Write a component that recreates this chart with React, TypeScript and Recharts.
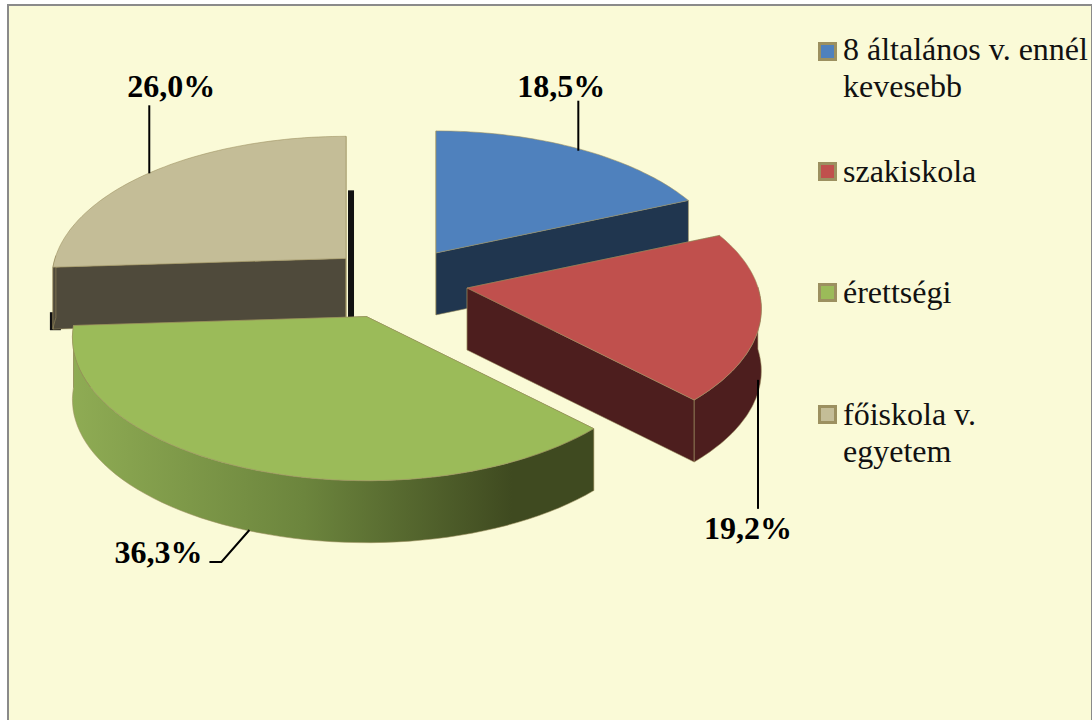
import { PieChart, Pie, Legend } from "recharts";

const categories = ["8 általános v. ennél kevesebb", "szakiskola", "érettségi", "főiskola v. egyetem"];
const shares = [18.5, 19.2, 36.3, 26.0];
const legendLines = [["8 általános v. ennél", "kevesebb"], ["szakiskola"], ["érettségi"], ["főiskola v.", "egyetem"]];
// tan goes first so that the green slice is painted over it
const drawOrder = [3, 0, 1, 2];

const TOP_COLORS = ["#4f81bd", "#c0504d", "#9bbb59", "#c4bd97"];
const WALL_COLORS = ["#20364f", "#4d1e1e", "url(#greenWall)", "#4f4a3b"];
const EDGE = "#9c9060";
const BG = "#fafad7";

const WIDTH = 1092;
const HEIGHT = 720;
const TILT = 0.481;
const PERSPECTIVE = 0.147;
const DEPTH = 62;
const EXPLODE_X = 72;
const EXPLODE_Y = 36;
// small per slice correction on top of the explode
const SLICE_NUDGE = [[0, 0], [0, -2], [-4, 0], [2, 0]];

// leader line and label text, relative to where the slice's mid angle hits its rim
const LABEL_LAYOUT = [
  { wall: 0, path: [[0, 2], [0, -48]], text: [-17, -52] },
  { wall: 1, path: [[-3, 2], [-3, 131]], text: [-13, 161] },
  { wall: 1, path: [[4, 0], [-24, 32], [-36, 32]], text: [-87, 33] },
  { wall: 0, path: [[-4, 2], [-4, -66]], text: [18, -74] },
];

const LEGEND_TOPS = [31, 153, 274, 396];
const SWATCH_OFFSET = [11, 9, 9, 9];

const sliceCentre = (cx: number, cy: number, midAngle: number, idx: number) => {
  const t = ((90 - midAngle) * Math.PI) / 180;
  return {
    x: cx + EXPLODE_X * Math.sin(t) + SLICE_NUDGE[idx][0],
    y: cy - EXPLODE_Y * Math.cos(t) + SLICE_NUDGE[idx][1],
  };
};

// pie plane to screen, the front of the pie comes out larger than the back
const project = (c: { x: number; y: number }, r: number, angle: number) => {
  const t = ((90 - angle) * Math.PI) / 180;
  const px = Math.sin(t);
  const py = -Math.cos(t);
  const s = 1 / (1 - PERSPECTIVE * py);
  return { x: c.x + r * px * s, y: c.y + r * TILT * py * s, front: py > -0.02 };
};

const toPath = (pts: { x: number; y: number }[]) =>
  "M" + pts.map((p) => `${p.x.toFixed(1)},${p.y.toFixed(1)}`).join("L") + "Z";

function Slice3D(props: any) {
  const { cx, cy, outerRadius, startAngle, endAngle, midAngle, payload } = props;
  const idx = payload.idx;
  const c = sliceCentre(cx, cy, midAngle, idx);
  const arc = [];
  for (let i = 0; i <= 60; i++) {
    arc.push(project(c, outerRadius, startAngle + ((endAngle - startAngle) * i) / 60));
  }
  const down = (p: { x: number; y: number }) => ({ x: p.x, y: p.y + DEPTH });
  const first = arc[0];
  const last = arc[arc.length - 1];
  const frontArc = arc.filter((p) => p.front);
  const wallColor = WALL_COLORS[idx];
  const flatWall = idx === 2 ? "#3f4a20" : wallColor;
  return (
    <g strokeOpacity={0.8}>
      {idx === 3 && (
        <g fill="#111">
          <rect x={c.x + 2} y={c.y - 68} width={6} height={128} />
          <path
            d={toPath([
              { x: first.x - 3, y: first.y + 45 },
              { x: first.x - 3, y: first.y + 63 },
              { x: first.x + 8, y: first.y + 63 },
              { x: first.x + 8, y: first.y + 45 },
            ])}
          />
        </g>
      )}
      <path d={toPath([c, first, down(first), down(c)])} fill={flatWall} stroke={EDGE} strokeWidth={0.7} />
      <path d={toPath([c, last, down(last), down(c)])} fill={flatWall} stroke={EDGE} strokeWidth={0.7} />
      {frontArc.length > 1 && (
        <path
          d={toPath([...frontArc, ...frontArc.map(down).reverse()])}
          fill={wallColor}
          stroke={EDGE}
          strokeWidth={0.7}
        />
      )}
      <path d={toPath([c, ...arc])} fill={TOP_COLORS[idx]} stroke={EDGE} strokeWidth={0.7} />
    </g>
  );
}

function SliceLabel(props: any) {
  const { cx, cy, outerRadius, midAngle, payload } = props;
  const idx = payload.idx;
  const layout = LABEL_LAYOUT[idx];
  const rim = project(sliceCentre(cx, cy, midAngle, idx), outerRadius, midAngle);
  const ax = rim.x;
  const ay = rim.y + layout.wall * DEPTH;
  return (
    <g>
      <polyline
        points={layout.path.map(([dx, dy]) => `${ax + dx},${ay + dy}`).join(" ")}
        fill="none"
        stroke="#000"
        strokeWidth={2}
      />
      <text
        x={ax + layout.text[0]}
        y={ay + layout.text[1]}
        textAnchor="middle"
        fontFamily="'Liberation Serif', serif"
        fontWeight="bold"
        fontSize={32}
        fill="#000"
      >
        {payload.value.toFixed(1).replace(".", ",") + "%"}
      </text>
    </g>
  );
}

function LegendList() {
  return (
    <div style={{ position: "relative", width: WIDTH, height: HEIGHT }}>
      {legendLines.map((lines, i) => (
        <div key={categories[i]} style={{ position: "absolute", left: 0, top: LEGEND_TOPS[i] }}>
          <span
            style={{
              position: "absolute",
              left: 818,
              top: SWATCH_OFFSET[i],
              width: 13,
              height: 13,
              background: TOP_COLORS[i],
              border: `3px solid ${EDGE}`,
            }}
          />
          <div
            style={{
              position: "absolute",
              left: 843,
              top: 0,
              width: 260,
              fontFamily: "'Liberation Serif', serif",
              fontSize: 32,
              lineHeight: "37px",
              color: "#111",
              whiteSpace: "nowrap",
            }}
          >
            {lines.map((l) => (
              <div key={l}>{l}</div>
            ))}
          </div>
        </div>
      ))}
    </div>
  );
}

const pieData = drawOrder.map((i) => ({ name: categories[i], value: shares[i], idx: i }));
const total = shares.reduce((a, b) => a + b, 0);
const startAngle = 90 + (360 * shares[drawOrder[0]]) / total;

export default function App() {
  return (
    <div style={{ position: "absolute", left: 0, top: 0, width: WIDTH, height: HEIGHT, overflow: "hidden", background: "#fff" }}>
      <div
        style={{
          position: "absolute",
          left: 7,
          top: 4,
          width: WIDTH - 10,
          height: HEIGHT,
          background: BG,
          border: "2px solid #8a8a8a",
        }}
      />
      <div style={{ position: "absolute", left: 0, top: 0 }}>
        <PieChart width={WIDTH} height={HEIGHT} margin={{ top: 0, right: 0, bottom: 0, left: 0 }}>
          <defs>
            <linearGradient id="greenWall" gradientUnits="userSpaceOnUse" x1="70" y1="0" x2="590" y2="0">
              <stop offset="0" stopColor="#8fac54" />
              <stop offset="0.45" stopColor="#6c853d" />
              <stop offset="0.85" stopColor="#3f4a20" />
              <stop offset="1" stopColor="#3f4a20" />
            </linearGradient>
          </defs>
          <Pie
            data={pieData}
            dataKey="value"
            nameKey="name"
            cx={396.5}
            cy={283}
            innerRadius={0}
            outerRadius={291}
            startAngle={startAngle}
            endAngle={startAngle - 360}
            stroke="none"
            isAnimationActive={false}
            shape={Slice3D}
            label={SliceLabel}
            labelLine={false}
          />
          <Legend
            content={LegendList}
            wrapperStyle={{ position: "absolute", left: 0, top: 0, width: WIDTH, height: HEIGHT, pointerEvents: "none" }}
          />
        </PieChart>
      </div>
    </div>
  );
}
